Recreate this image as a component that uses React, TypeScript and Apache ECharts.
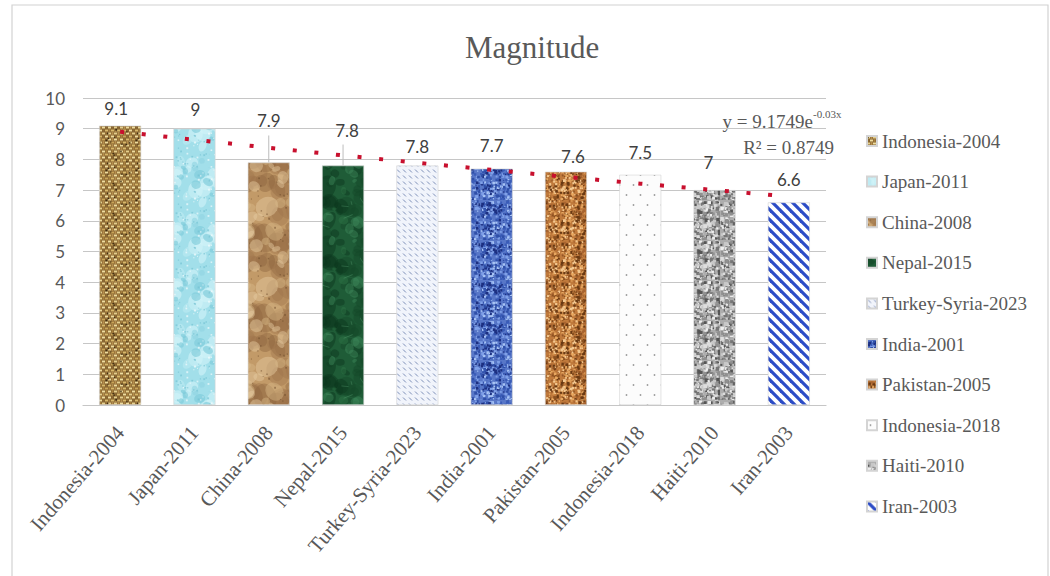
import React, { useEffect, useRef } from "react";
import * as echarts from "echarts";

// ---------- data ----------
const titleText = "Magnitude";
const categories = [
  "Indonesia-2004",
  "Japan-2011",
  "China-2008",
  "Nepal-2015",
  "Turkey-Syria-2023",
  "India-2001",
  "Pakistan-2005",
  "Indonesia-2018",
  "Haiti-2010",
  "Iran-2003",
];
const magnitudes = [9.1, 9, 7.9, 7.8, 7.8, 7.7, 7.6, 7.5, 7, 6.6];
// exponential trendline values at each category
const trendValues = [8.9, 8.64, 8.38, 8.13, 7.89, 7.66, 7.43, 7.21, 7.0, 6.79];
const trendEquation = "y = 9.1749e";
const trendExponent = "-0.03x";
const trendR2 = "R\u00b2 = 0.8749";
const yMin = 0;
const yMax = 10;
const yStep = 1;

// ---------- styling (label nudges, textures) ----------
const labelShift: number[][] = [
  [-4, -4], [1, -6], [0, -28], [4, -22], [0, -6],
  [0, -10], [7, -2], [0, -9], [-6, -14], [0, -9],
];

const SERIF = "'Liberation Serif', 'Times New Roman', serif";
const SANS = "Lato, 'Liberation Sans', sans-serif";

function rng(seed: number) {
  let a = seed;
  return () => {
    a |= 0;
    a = (a + 0x6d2b79f5) | 0;
    let t = Math.imul(a ^ (a >>> 15), 1 | a);
    t = (t + Math.imul(t ^ (t >>> 7), 61 | t)) ^ t;
    return ((t ^ (t >>> 14)) >>> 0) / 4294967296;
  };
}

function mk(w: number, h: number, base: string) {
  const c = document.createElement("canvas");
  c.width = w;
  c.height = h;
  const ctx = c.getContext("2d")!;
  ctx.fillStyle = base;
  ctx.fillRect(0, 0, w, h);
  return { c, ctx };
}

function speckle(ctx: CanvasRenderingContext2D, w: number, h: number, r: () => number, colors: string[], count: number, smin: number, smax: number, alpha = 1) {
  ctx.globalAlpha = alpha;
  for (let i = 0; i < count; i++) {
    ctx.fillStyle = colors[Math.floor(r() * colors.length)];
    const s = smin + r() * (smax - smin);
    ctx.fillRect(r() * w, r() * h, s, s);
  }
  ctx.globalAlpha = 1;
}

function blobs(ctx: CanvasRenderingContext2D, w: number, h: number, r: () => number, colors: string[], count: number, rmin: number, rmax: number, alpha: number) {
  ctx.globalAlpha = alpha;
  for (let i = 0; i < count; i++) {
    ctx.fillStyle = colors[Math.floor(r() * colors.length)];
    const rx = rmin + r() * (rmax - rmin);
    const ry = rx * (0.5 + r() * 0.8);
    const x = r() * w;
    const y = r() * h;
    const rot = r() * Math.PI;
    for (const dx of [-w, 0, w]) {
      for (const dy of [-h, 0, h]) {
        ctx.beginPath();
        ctx.ellipse(x + dx, y + dy, rx, ry, rot, 0, Math.PI * 2);
        ctx.fill();
      }
    }
  }
  ctx.globalAlpha = 1;
}

function texture(i: number): HTMLCanvasElement {
  const r = rng(1000 + i * 77);
  if (i === 0) {
    // burlap
    const { c, ctx } = mk(30, 30, "#7e5f2e");
    for (let y = 0; y < 30; y += 3) {
      for (let x = 0; x < 30; x += 3) {
        const light = ["#e6cf8c", "#d8b86a", "#c9a458", "#efdc9c"][Math.floor(r() * 4)];
        const dark = ["#a7803e", "#8d6a33", "#b58e4c"][Math.floor(r() * 3)];
        if (((x + y) / 3) % 2 === 0) {
          ctx.fillStyle = light;
          ctx.fillRect(x, y + 0.5, 3, 2);
        } else {
          ctx.fillStyle = dark;
          ctx.fillRect(x + 0.5, y, 2, 3);
        }
      }
    }
    speckle(ctx, 30, 30, r, ["#3d2b12"], 14, 1, 2);
    return c;
  }
  if (i === 1) {
    const { c, ctx } = mk(42, 56, "#a2dfea");
    blobs(ctx, 42, 56, r, ["#d2f3f8", "#bdebf2"], 12, 3, 8, 0.6);
    blobs(ctx, 42, 56, r, ["#7ccad9", "#8fd4e1"], 10, 2, 6, 0.6);
    speckle(ctx, 42, 56, r, ["#ffffff", "#6fc0d0"], 60, 1, 2, 0.6);
    return c;
  }
  if (i === 2) {
    const { c, ctx } = mk(60, 80, "#c29a68");
    blobs(ctx, 60, 80, r, ["#8a623c", "#9d744a"], 28, 4, 13, 0.4);
    blobs(ctx, 60, 80, r, ["#e6cda2", "#d8b888"], 26, 3, 10, 0.45);
    speckle(ctx, 60, 80, r, ["#6e4c2c"], 40, 1, 2, 0.5);
    return c;
  }
  if (i === 3) {
    const { c, ctx } = mk(60, 60, "#1f5c37");
    blobs(ctx, 60, 60, r, ["#0c361d", "#134628"], 30, 3, 10, 0.45);
    blobs(ctx, 60, 60, r, ["#3f8a5a", "#2e7548"], 14, 2, 7, 0.45);
    ctx.strokeStyle = "#5aa074";
    ctx.globalAlpha = 0.45;
    for (let k = 0; k < 8; k++) {
      ctx.beginPath();
      const x = r() * 60;
      const y = r() * 60;
      ctx.moveTo(x, y);
      ctx.lineTo(x + (r() - 0.5) * 20, y + (r() - 0.5) * 20);
      ctx.lineWidth = 0.8;
      ctx.stroke();
    }
    ctx.globalAlpha = 1;
    return c;
  }
  if (i === 4) {
    const { c, ctx } = mk(6, 6, "#f1f4fb");
    ctx.strokeStyle = "#7d8fb8";
    ctx.lineWidth = 1;
    ctx.beginPath();
    ctx.moveTo(1, 1.5);
    ctx.lineTo(4, 4.5);
    ctx.stroke();
    return c;
  }
  if (i === 5) {
    const { c, ctx } = mk(40, 40, "#5877c8");
    speckle(ctx, 40, 40, r, ["#1c2f80", "#2f4fa8", "#a8c4f4", "#7fa0e8", "#3a5cb8"], 380, 1, 3);
    return c;
  }
  if (i === 6) {
    const { c, ctx } = mk(40, 40, "#c07a3c");
    speckle(ctx, 40, 40, r, ["#6a3a14", "#e8a860", "#f3c890", "#8a5020", "#a86430"], 420, 1, 3);
    return c;
  }
  if (i === 7) {
    const { c, ctx } = mk(14, 20, "#fcfcfc");
    ctx.fillStyle = "#9c9c9c";
    ctx.beginPath();
    ctx.arc(3.5, 5, 0.9, 0, Math.PI * 2);
    ctx.arc(10.5, 15, 0.9, 0, Math.PI * 2);
    ctx.fill();
    return c;
  }
  if (i === 8) {
    const { c, ctx } = mk(40, 40, "#adadad");
    speckle(ctx, 40, 40, r, ["#555555", "#777777", "#dddddd", "#eeeeee", "#909090", "#c8c8c8"], 420, 1, 4);
    return c;
  }
  // i === 9 diagonal stripes
  const { c, ctx } = mk(10, 10, "#ffffff");
  ctx.strokeStyle = "#2c4cc6";
  ctx.lineWidth = 3.2;
  for (const off of [-10, 0, 10]) {
    ctx.beginPath();
    ctx.moveTo(off - 2, -2);
    ctx.lineTo(off + 12, 12);
    ctx.stroke();
  }
  return c;
}

export default function App() {
  const ref = useRef<HTMLDivElement>(null);

  useEffect(() => {
    document.body.style.margin = "0";
    if (!ref.current) return;
    const chart = echarts.init(ref.current, undefined, { renderer: "svg" });

    const barSeries = categories.map((name, i) => ({
      name,
      type: "bar",
      stack: "mag",
      barWidth: 42,
      itemStyle: {
        color: { image: texture(i), repeat: "repeat" },
        borderColor: "#d4d4d4",
        borderWidth: 0.6,
      },
      label: {
        show: true,
        position: "top",
        distance: 5,
        offset: labelShift[i],
        color: "#404040",
        fontFamily: SANS,
        fontSize: 17,
      },
      data: magnitudes.map((v, j) => (j === i ? v : "-")),
    }));

    chart.setOption({
      animation: false,
      backgroundColor: "#ffffff",
      title: {
        text: titleText,
        left: 460,
        top: 27,
        textStyle: { fontFamily: SERIF, fontSize: 31, fontWeight: "normal", color: "#595959" },
      },
      legend: {
        data: categories,
        orient: "vertical",
        left: 861,
        top: 126,
        itemWidth: 10,
        itemHeight: 10,
        itemGap: 20.6,
        icon: "rect",
        textStyle: { fontFamily: SERIF, fontSize: 19, color: "#595959", lineHeight: 20 },
      },
      grid: { left: 83, right: 224, top: 98, bottom: 171, containLabel: false },
      xAxis: {
        type: "category",
        data: categories,
        axisLine: { show: true, lineStyle: { color: "#c6c6c6", width: 1.2 } },
        axisTick: { show: false },
        axisLabel: {
          interval: 0,
          rotate: 49,
          margin: 24,
          color: "#595959",
          fontFamily: SERIF,
          fontSize: 21,
        },
      },
      yAxis: {
        type: "value",
        min: yMin,
        max: yMax,
        interval: yStep,
        axisLine: { show: false },
        axisTick: { show: false },
        axisLabel: { color: "#595959", fontFamily: SANS, fontSize: 17, margin: 18 },
        splitLine: { lineStyle: { color: "#c6c6c6", width: 1.2 } },
      },
      series: [
        ...barSeries,
        {
          name: "trend",
          type: "line",
          data: trendValues,
          symbol: "none",
          z: 5,
          lineStyle: { color: "#c8102e", width: 4, type: [4, 17.7], cap: "butt" },
        },
      ],
      graphic: [
        {
          type: "rect",
          silent: true,
          z: -10,
          shape: { x: 12, y: 5, width: 1036, height: 620 },
          style: { fill: "none", stroke: "#d2d2d2", lineWidth: 1.2 },
        },
        {
          type: "text",
          silent: true,
          x: 813,
          y: 121,
          style: { text: trendEquation, fontSize: 19, fontFamily: SERIF, fill: "#595959", align: "right", verticalAlign: "middle" },
        },
        {
          type: "text",
          silent: true,
          x: 813,
          y: 114,
          style: { text: trendExponent, fontSize: 11, fontFamily: SERIF, fill: "#595959", align: "left", verticalAlign: "middle" },
        },
        {
          type: "text",
          silent: true,
          x: 834,
          y: 147,
          style: { text: trendR2, fontSize: 19, fontFamily: SERIF, fill: "#595959", align: "right", verticalAlign: "middle" },
        },
      ],
    });

    // small leader lines from moved labels to their bars
    const leaders: any[] = [];
    [2, 3].forEach((idx) => {
      const p = chart.convertToPixel({ xAxisIndex: 0, yAxisIndex: 0 }, [idx, magnitudes[idx]]) as number[];
      const gapTop = -labelShift[idx][1] - 1;
      leaders.push({
        type: "line",
        silent: true,
        z: 4,
        shape: { x1: p[0], y1: p[1] - gapTop, x2: p[0], y2: p[1] },
        style: { stroke: "#bdbdbd", lineWidth: 1 },
      });
    });
    const prev = (chart.getOption() as any).graphic?.[0]?.elements || [];
    chart.setOption({ graphic: [...prev.map((e: any) => ({ id: e.id })), ...leaders] });

    return () => chart.dispose();
  }, []);

  return <div ref={ref} style={{ width: 1050, height: 576 }} />;
}
